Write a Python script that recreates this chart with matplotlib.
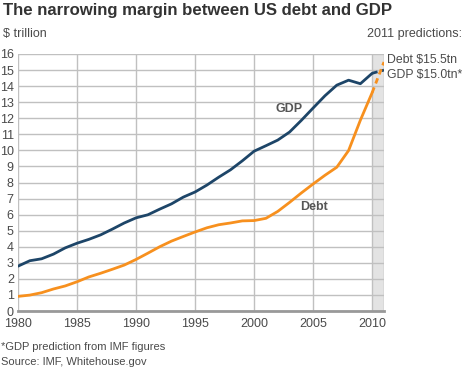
import matplotlib
matplotlib.use("Agg")
import matplotlib.pyplot as plt

years = list(range(1980, 2011))
gdp = [2.79, 3.13, 3.25, 3.54, 3.93, 4.22, 4.46, 4.74, 5.10, 5.48,
       5.80, 5.99, 6.34, 6.67, 7.09, 7.41, 7.84, 8.33, 8.79, 9.35,
       9.95, 10.29, 10.64, 11.14, 11.87, 12.64, 13.40, 14.06, 14.37, 14.15,
       14.80]
debt = [0.91, 0.99, 1.14, 1.37, 1.56, 1.82, 2.12, 2.35, 2.60, 2.86,
        3.21, 3.60, 4.00, 4.35, 4.64, 4.92, 5.18, 5.37, 5.48, 5.61,
        5.63, 5.77, 6.20, 6.76, 7.35, 7.91, 8.45, 8.95, 9.99, 11.88,
        13.60]
pred_years = [2010, 2011]
gdp_pred = [14.80, 15.0]
debt_pred = [13.60, 15.5]

xticks = [1980, 1985, 1990, 1995, 2000, 2005, 2010]
yticks = list(range(0, 17))

GDP_C = "#1d4568"
DEBT_C = "#f7901e"
TXT = "#4a4a4a"
GRID = "#c0c0c0"

plt.rcParams['font.family'] = ['Liberation Sans', 'DejaVu Sans']

fig = plt.figure(figsize=(4.64, 3.70), dpi=100)
ax = fig.add_axes([18/464, 1-311/370, (384-18)/464, (311-54)/370])

ax.axvspan(2010, 2011, color="#e3e3e3", zorder=0, lw=0)
ax.plot(years, gdp, color=GDP_C, lw=2, zorder=3, solid_capstyle='round')
ax.plot(years, debt, color=DEBT_C, lw=2, zorder=3, solid_capstyle='round')
ax.plot(pred_years, gdp_pred, color=GDP_C, lw=2, ls=(0, (2, 1.5)), zorder=3)
ax.plot(pred_years, debt_pred, color=DEBT_C, lw=2, ls=(0, (2, 1.5)), zorder=3)

ax.set_xlim(1980, 2011)
ax.set_ylim(0, 16)
ax.set_xticks(xticks)
ax.set_yticks(yticks)
ax.grid(True, color=GRID, lw=1, zorder=1)
ax.axvline(2011, color="#b0b0b0", lw=1, zorder=1)
for s in ['top', 'right', 'left']:
    ax.spines[s].set_visible(False)
ax.spines['bottom'].set_color("#999999")
ax.spines['bottom'].set_linewidth(2)
ax.spines['bottom'].set_zorder(4)
ax.tick_params(axis='both', length=0, labelsize=9, labelcolor=TXT)
ax.tick_params(axis='y', pad=3)
ax.tick_params(axis='x', pad=5)

ax.text(2001.8, 12.56, "GDP", fontsize=9, fontweight='bold', color="#555555",
        va='center')
ax.text(2003.9, 6.5, "Debt", fontsize=9, fontweight='bold', color="#555555",
        va='center')

fig.text(3/464, 1-11/370, "The narrowing margin between US debt and GDP",
         fontsize=12.1, fontweight='bold', color="#333333", va='center')
fig.text(3/464, 1-34/370, "$ trillion", fontsize=9, color=TXT, va='center')
fig.text(462/464, 1-34/370, "2011 predictions:", fontsize=9, color=TXT,
         va='center', ha='right')
fig.text(387/464, 1-60/370, "Debt $15.5tn", fontsize=8.8, color=TXT, va='center')
fig.text(387/464, 1-75/370, "GDP $15.0tn*", fontsize=8.8, color=TXT, va='center')
fig.text(1/464, 1-347/370, "*GDP prediction from IMF figures", fontsize=8,
         color=TXT, va='center')
fig.text(1/464, 1-362/370, "Source: IMF, Whitehouse.gov", fontsize=8,
         color=TXT, va='center')

fig.savefig("out.png", dpi=100, facecolor="white")
